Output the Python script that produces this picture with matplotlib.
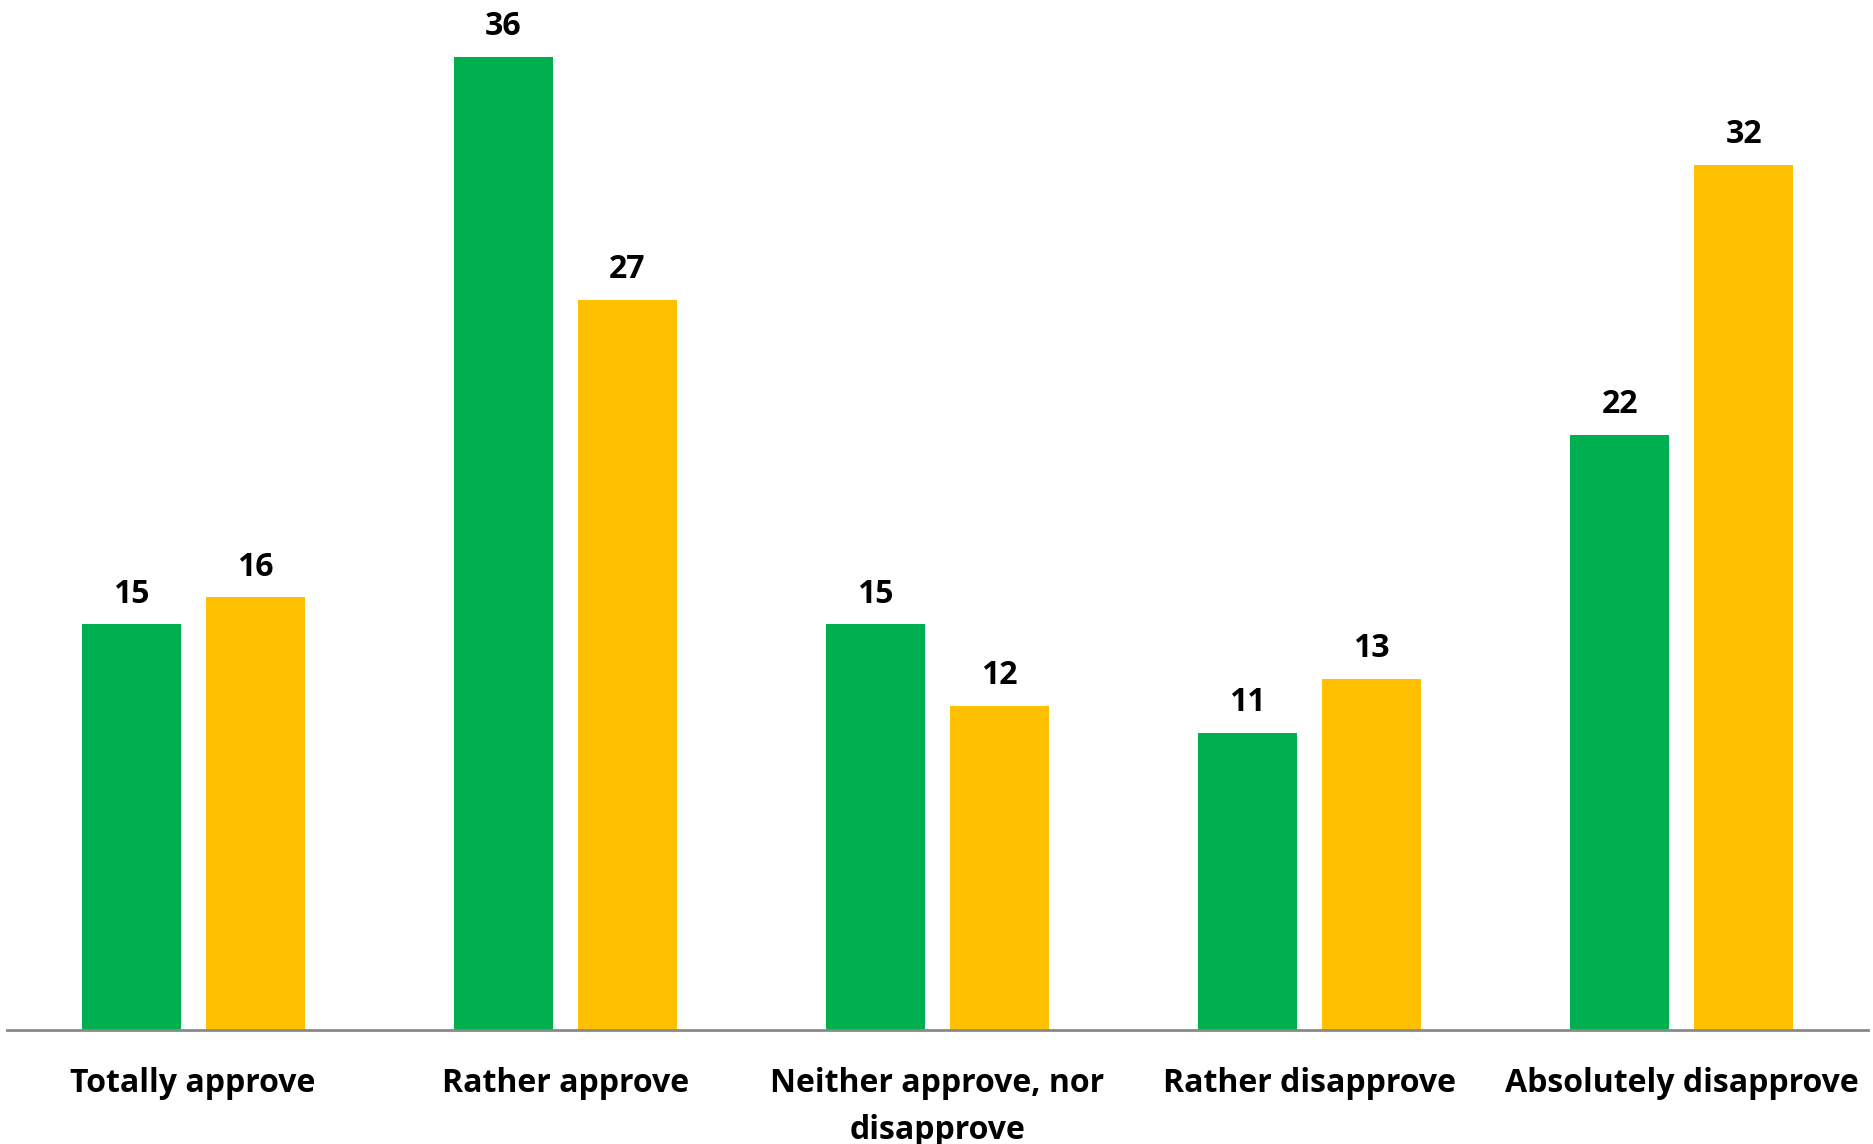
import numpy as np
import matplotlib.pyplot as plt

categories = ["Totally approve", "Rather approve", "Neither approve, nor\ndisapprove",
              "Rather disapprove", "Absolutely disapprove"]
series_green = [15, 36, 15, 11, 22]
series_yellow = [16, 27, 12, 13, 32]

plt.rcParams['font.family'] = ['Open Sans', 'DejaVu Sans']

fig = plt.figure(figsize=(18.73, 11.44), dpi=100)
ax = fig.add_axes([7 / 1873, 114 / 1144, 1861 / 1873, 1030 / 1144])

x = np.arange(len(categories))
w = 0.266
off = 0.1666
b1 = ax.bar(x - off, series_green, w, color='#00B050')
b2 = ax.bar(x + off, series_yellow, w, color='#FFC000')

for bars in (b1, b2):
    ax.bar_label(bars, padding=10, fontsize=23, fontweight='bold', color='black')

ax.set_xlim(-0.5, len(categories) - 0.5)
ax.set_ylim(0, 38.1)
ax.set_yticks([])
ax.set_xticks(x)
ax.set_xticklabels(categories, fontsize=23, fontweight='bold', linespacing=1.55)
ax.tick_params(axis='x', length=0, pad=27)

for s in ['top', 'right', 'left']:
    ax.spines[s].set_visible(False)
ax.spines['bottom'].set_color('#898989')
ax.spines['bottom'].set_linewidth(2)

fig.savefig('out.png', dpi=100)
